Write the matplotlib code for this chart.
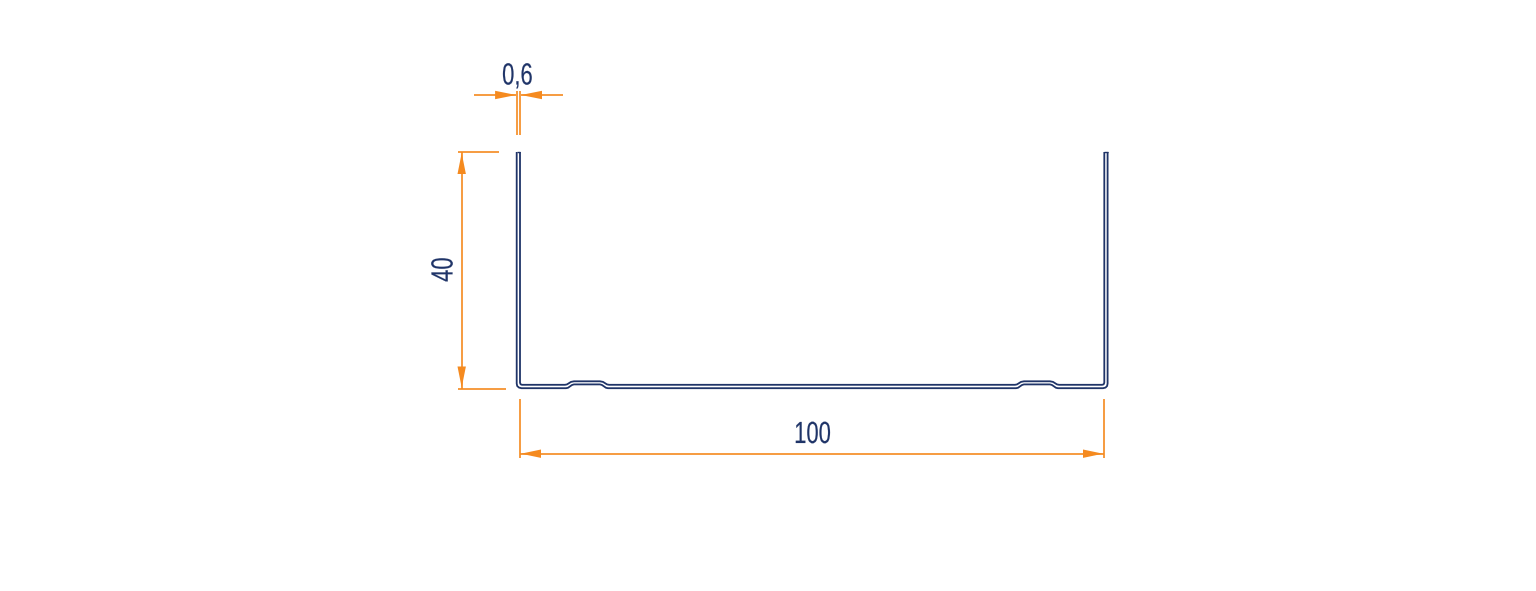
import matplotlib
matplotlib.use("Agg")
import matplotlib.pyplot as plt
from matplotlib.path import Path
from matplotlib.patches import PathPatch
from matplotlib.patheffects import AbstractPathEffect
from matplotlib.transforms import Affine2D

NAVY = "#1f3468"
ORANGE = "#f58a1f"
FONT = "Liberation Sans"

# profile lines, figure-pixel coordinates
outer_x = [516.7, 516.7, 517.2, 519, 521.5, 566, 568, 572, 574, 600, 602, 606, 608, 1016, 1018, 1022, 1024, 1050, 1052, 1056, 1058, 1103, 1105.5, 1107.1, 1107.6, 1107.6]
outer_y = [152, 383.5, 386, 387.6, 388.2, 388.2, 387.8, 385, 384.4, 384.4, 385, 387.8, 388.2, 388.2, 387.8, 385, 384.4, 384.4, 385, 387.8, 388.2, 388.2, 387.6, 386, 383.5, 152]
inner_x = [520, 520, 520.4, 521, 522, 565, 567, 571, 574, 600, 603, 607, 609, 1015, 1017, 1021, 1024, 1050, 1053, 1057, 1059, 1102, 1103.3, 1103.9, 1104.3, 1104.3]
inner_y = [152, 382.5, 383.9, 384.5, 384.8, 384.8, 384.4, 381.9, 381.3, 381.3, 381.9, 384.4, 384.8, 384.8, 384.4, 381.9, 381.3, 381.3, 381.9, 384.4, 384.8, 384.8, 384.5, 383.9, 382.5, 152]

# dimension geometry
width_ext_x = [520, 1104]
width_ext_y = (399, 458)
width_line_y = 453.7
height_ext_y = [152, 388.5]
height_ext_x = [(458, 499), (458, 506)]
height_line_x = 461.7
thick_ext_x = [516.6, 520]
thick_ext_y = (91, 135)
thick_line_y = 95
thick_line_x = [(474, 516), (520.5, 563)]

labels = ["0,6", "40", "100"]


class Condense(AbstractPathEffect):
    """Narrow a real text object along its reading direction, about its centre."""

    def __init__(self, factor, weight):
        super().__init__()
        self.factor = factor
        self.weight = weight

    def draw_path(self, renderer, gc, tpath, affine, rgbFace=None):
        ext = tpath.get_extents()
        centre = (ext.x0 + ext.x1) / 2
        narrow = Affine2D().translate(-centre, 0).scale(self.factor, 1).translate(centre, 0)
        stroked = renderer.new_gc()
        stroked.copy_properties(gc)
        stroked.set_linewidth(self.weight)
        renderer.draw_path(stroked, tpath, narrow + affine, rgbFace)
        stroked.restore()


fig = plt.figure(figsize=(15.36, 5.91), dpi=100, facecolor="white")
ax = fig.add_axes([0, 0, 1, 1])
ax.set_xlim(0, 1536)
ax.set_ylim(591, 0)
ax.axis("off")

ax.plot(outer_x, outer_y, color=NAVY, lw=1.3, solid_joinstyle="round", solid_capstyle="butt")
ax.plot(inner_x, inner_y, color=NAVY, lw=1.3, solid_joinstyle="round", solid_capstyle="butt")
ax.plot([outer_x[0], inner_x[0]], [outer_y[0], inner_y[0]], color=NAVY, lw=1.0, solid_capstyle="butt")
ax.plot([outer_x[-1], inner_x[-1]], [outer_y[-1], inner_y[-1]], color=NAVY, lw=1.0, solid_capstyle="butt")


def line(xs, ys, lw=1.2):
    ax.plot(xs, ys, color=ORANGE, lw=lw, solid_capstyle="butt")


def arrow(tip_x, tip_y, dx, dy, half=4.2):
    # dx, dy: vector from the tip back to the arrow's base
    if dx:
        verts = [(tip_x, tip_y), (tip_x + dx, tip_y - half), (tip_x + dx, tip_y + half), (tip_x, tip_y)]
    else:
        verts = [(tip_x, tip_y), (tip_x - half, tip_y + dy), (tip_x + half, tip_y + dy), (tip_x, tip_y)]
    ax.add_patch(PathPatch(Path(verts, closed=True), fc=ORANGE, ec="none", lw=0))


# width dimension
for x in width_ext_x:
    line([x, x], width_ext_y)
line(width_ext_x, [width_line_y, width_line_y])
arrow(width_ext_x[0] + 1, width_line_y, 20, 0)
arrow(width_ext_x[1] - 1, width_line_y, -20, 0)

# height dimension
for y, xs in zip(height_ext_y, height_ext_x):
    line(xs, [y, y])
line([height_line_x, height_line_x], height_ext_y)
arrow(height_line_x, height_ext_y[0] + 1, 0, 21)
arrow(height_line_x, height_ext_y[1] - 1, 0, -21)

# thickness dimension
for x in thick_ext_x:
    line([x, x], thick_ext_y)
for xs in thick_line_x:
    line(xs, [thick_line_y, thick_line_y])
arrow(thick_ext_x[0] - 0.5, thick_line_y, -21, 0)
arrow(thick_ext_x[1] + 1, thick_line_y, 21, 0)

text_kw = dict(color=NAVY, family=FONT, fontsize=22, ha="center", va="center",
               path_effects=[Condense(0.72, 0.12)])
ax.text(517.5, 76.5, labels[0], **text_kw)
ax.text(444.5, 269.5, labels[1], rotation=90, **text_kw)
ax.text(812.5, 435, labels[2], **text_kw)

fig.savefig("out.png", dpi=100, facecolor="white")
